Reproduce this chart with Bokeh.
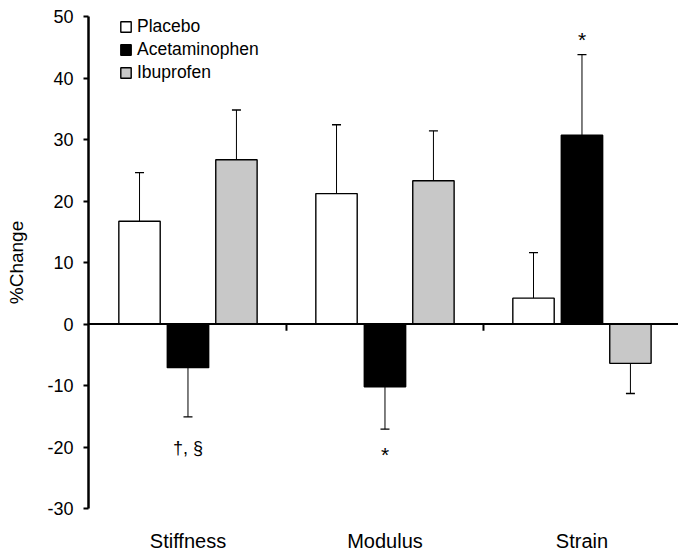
from bokeh.plotting import figure
from bokeh.models import (Range1d, FixedTicker, ColumnDataSource, Whisker, TeeHead,
                          Legend, LegendItem, Span)
from bokeh.embed import file_html
from bokeh.resources import INLINE
from bokeh.core.properties import value

# ---- data ----
categories = ["Stiffness", "Modulus", "Strain"]
series_names = ["Placebo", "Acetaminophen", "Ibuprofen"]
placebo = [16.7, 21.2, 4.2]
placebo_err = [7.9, 11.2, 7.4]
acetaminophen = [-7.1, -10.2, 30.7]
acetaminophen_err = [8.0, 6.9, 13.1]
ibuprofen = [26.7, 23.3, -6.4]
ibuprofen_err = [8.1, 8.1, 4.9]
y_ticks = [-30, -20, -10, 0, 10, 20, 30, 40, 50]
y_tick_labels = ["-30", "-20", "-10", "0", "10", "20", "30", "40", "50"]
annotations = ["\u2020, \u00a7", "*", "*"]   # under Stiffness/Acet, under Modulus/Acet, above Strain/Acet

# ---- style ----
FONT = "Liberation Sans"
colors = ["white", "black", "#c8c8c8"]
offsets = [-0.246, 0.0, 0.246]
bar_w = 0.21

p = figure(width=678, height=555, output_backend="svg", toolbar_location=None,
           x_range=Range1d(-0.005, 2.99), y_range=Range1d(-30, 50),
           min_border_left=88, min_border_right=0, min_border_top=16, min_border_bottom=47)
p.outline_line_color = None
p.xgrid.visible = False
p.ygrid.visible = False
p.background_fill_color = "white"
p.border_fill_color = "white"

centers = [i + 0.5 for i in range(len(categories))]
series = [placebo, acetaminophen, ibuprofen]
errors = [placebo_err, acetaminophen_err, ibuprofen_err]

renderers = []
for k, (vals, errs) in enumerate(zip(series, errors)):
    xs = [c + offsets[k] for c in centers]
    src = ColumnDataSource(dict(x=xs, top=vals))
    r = p.vbar(x="x", top="top", bottom=0, width=bar_w, source=src,
               fill_color=colors[k], line_color="black", line_width=1.4)
    renderers.append(r)
    pos = [(x, v, v + e) for x, v, e in zip(xs, vals, errs) if v >= 0]
    neg = [(x, v - e, v) for x, v, e in zip(xs, vals, errs) if v < 0]
    if pos:
        s = ColumnDataSource(dict(base=[a[0] for a in pos], lower=[a[1] for a in pos], upper=[a[2] for a in pos]))
        p.add_layout(Whisker(source=s, base="base", lower="lower", upper="upper",
                             line_width=1, line_color="black",
                             upper_head=TeeHead(size=9, line_width=1.3), lower_head=None))
    if neg:
        s = ColumnDataSource(dict(base=[a[0] for a in neg], lower=[a[1] for a in neg], upper=[a[2] for a in neg]))
        p.add_layout(Whisker(source=s, base="base", lower="lower", upper="upper",
                             line_width=1, line_color="black",
                             lower_head=TeeHead(size=9, line_width=1.3), upper_head=None))

# zero line and group separator ticks
p.add_layout(Span(location=0, dimension="width", line_color="black", line_width=2))
sep = [i for i in range(1, len(categories))]
p.segment(x0=sep, y0=[0] * len(sep), x1=sep, y1=[-1.1] * len(sep), line_color="black", line_width=2)

# significance annotations
ann_x = [centers[0] + offsets[1], centers[1] + offsets[1], centers[2] + offsets[1]]
ann_y = [-20.2, -21.2, 46.2]
ann_size = ["18px", "21px", "21px"]
p.text(x=ann_x, y=ann_y, text=annotations, text_align="center", text_baseline="alphabetic",
       text_font=value(FONT), text_font_size=ann_size, text_color="black")

# y axis
p.yaxis.ticker = FixedTicker(ticks=y_ticks)
p.yaxis.major_label_overrides = {t: l for t, l in zip(y_ticks, y_tick_labels)}
p.yaxis.minor_tick_line_color = None
p.yaxis.major_tick_in = 0
p.yaxis.major_tick_out = 5
p.yaxis.major_tick_line_width = 2
p.yaxis.axis_line_width = 2.5
p.yaxis.axis_line_color = "black"
p.yaxis.major_label_text_font = FONT
p.yaxis.major_label_text_font_size = "18px"
p.yaxis.major_label_text_color = "black"
p.yaxis.major_label_standoff = 10
p.yaxis.axis_label = "%Change"
p.yaxis.axis_label_text_font = FONT
p.yaxis.axis_label_text_font_size = "19px"
p.yaxis.axis_label_text_font_style = "normal"
p.yaxis.axis_label_text_color = "black"
p.yaxis.axis_label_standoff = 17

# x axis (category labels only)
p.xaxis.ticker = FixedTicker(ticks=centers)
p.xaxis.major_label_overrides = {c: n for c, n in zip(centers, categories)}
p.xaxis.axis_line_color = None
p.xaxis.major_tick_line_color = None
p.xaxis.major_tick_out = 0
p.xaxis.major_tick_in = 0
p.xaxis.minor_tick_line_color = None
p.xaxis.major_label_text_font = FONT
p.xaxis.major_label_text_font_size = "20px"
p.xaxis.major_label_text_color = "black"
p.xaxis.major_label_standoff = 21

# legend
legend = Legend(items=[LegendItem(label=n, renderers=[r]) for n, r in zip(series_names, renderers)],
                location=(31, 425), orientation="vertical",
                glyph_width=13, glyph_height=13, label_height=20, spacing=2,
                label_standoff=5, padding=0, margin=0,
                border_line_color=None, background_fill_alpha=0,
                label_text_font=FONT, label_text_font_size="17.5px", label_text_color="black")
p.add_layout(legend)

open("out.html", "w").write(file_html(p, INLINE))
